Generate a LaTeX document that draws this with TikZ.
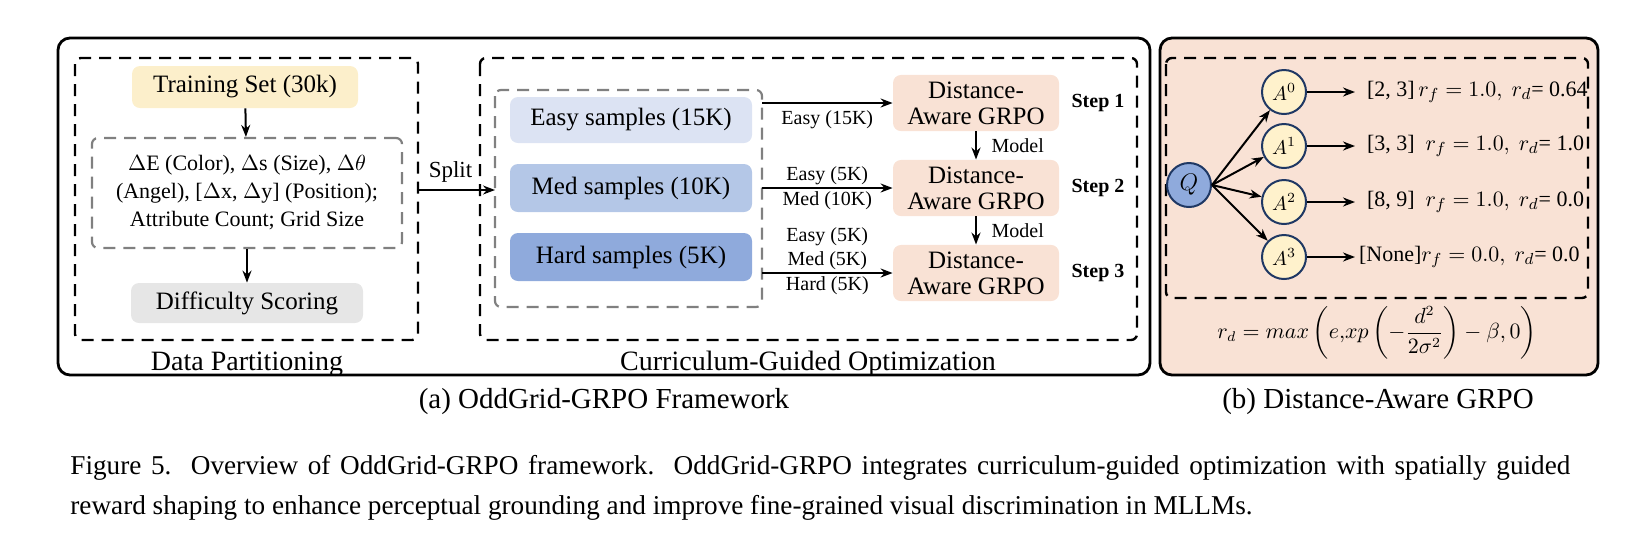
\documentclass[tikz,border=0pt]{standalone}
\usepackage{amsmath}
\usepackage{fontspec}
\setmainfont{Liberation Serif}
\usetikzlibrary{arrows.meta}

\definecolor{setyellow}{HTML}{FCEFCB}
\definecolor{scoregray}{HTML}{E6E6E6}
\definecolor{easyblue}{HTML}{DCE3F3}
\definecolor{medblue}{HTML}{B4C7E7}
\definecolor{hardblue}{HTML}{8FAADC}
\definecolor{peach}{HTML}{F9E2D5}
\definecolor{navy}{HTML}{1F3864}
\definecolor{ansyellow}{HTML}{FFF2CC}

\tikzset{
  frame/.style={draw, line width=1.4pt, rounded corners=6pt},
  group/.style={draw, dashed, line width=1.2pt, dash pattern=on 6pt off 4pt, rounded corners=3pt},
  subgroup/.style={draw=gray, dashed, line width=1.1pt, dash pattern=on 6pt off 4pt, rounded corners=3pt},
  block/.style={rounded corners=4pt, align=center, font=\fontsize{12.5}{13}\selectfont},
  title/.style={font=\fontsize{14}{16}\selectfont},
  stepname/.style={font=\fontsize{10}{11}\selectfont\bfseries},
  small/.style={font=\fontsize{10}{12}\selectfont, align=center},
  ans/.style={draw=navy, fill=ansyellow, circle, line width=1pt, minimum size=22pt, inner sep=0pt},
  arr/.style={-{Stealth[length=6pt]}, line width=1pt}
}

\begin{document}
\begin{tikzpicture}[x=0.5pt, y=-0.5pt]
        \useasboundingbox (0, 0) rectangle (1641, 543);

        % (a) framework
        \draw [frame] (58, 38) rectangle (1150, 375);
        \draw [group] (75, 58) rectangle (418, 340);
        \draw [group] (480, 58) rectangle (1137, 340);

        \node [block, fill=setyellow, minimum width=113pt, minimum height=21pt] (S) at (245, 87) {Training Set (30k)};
        \node [subgroup, minimum width=155pt, minimum height=55pt, align=center, font=\fontsize{11}{14}\selectfont] (D) at (247, 193)
              {$\Delta$E (Color), $\Delta$s (Size), $\Delta\theta$\\(Angel), [$\Delta$x, $\Delta$y] (Position);\\Attribute Count; Grid Size};
        \node [block, fill=scoregray, minimum width=116pt, minimum height=20pt] (R) at (247, 303) {Difficulty Scoring};
        \node [title] (P) at (247, 364) {Data Partitioning};

        \draw [arr] (S) -- (D);
        \draw [arr] (D) -- (R);

        \coordinate (L) at (418, 190);
        \coordinate (Rt) at (495, 190);
        \draw [arr] (L) -- node [above, small, font=\fontsize{11.5}{12}\selectfont, xshift=-3pt] {Split} (Rt);

        \draw [subgroup] (495, 90) rectangle (762, 307);
        \node [block, fill=easyblue, minimum width=121pt, minimum height=23pt] (E) at (631, 120) {Easy samples (15K)};
        \node [block, fill=medblue, minimum width=121pt, minimum height=24pt] (M) at (631, 188) {Med samples (10K)};
        \node [block, fill=hardblue, minimum width=121pt, minimum height=24pt] (H) at (631, 257) {Hard samples (5K)};

        \node [block, fill=peach, minimum width=83pt, minimum height=27pt] (G1) at (976, 103) {Distance-\\Aware GRPO};
        \node [block, fill=peach, minimum width=83pt, minimum height=27pt] (G2) at (976, 188) {Distance-\\Aware GRPO};
        \node [block, fill=peach, minimum width=83pt, minimum height=27pt] (G3) at (976, 273) {Distance-\\Aware GRPO};

        \node [stepname] (T1) at (1098, 103) {Step 1};
        \node [stepname] (T2) at (1098, 188) {Step 2};
        \node [stepname] (T3) at (1098, 273) {Step 3};

        \coordinate (I1) at (762, 103);
        \coordinate (I2) at (762, 188);
        \coordinate (I3) at (762, 273);
        \draw [arr] (I1) -- node [below, small] {Easy (15K)} (G1);
        \draw [arr] (I2) -- node [above, small, yshift=-2pt] {Easy (5K)} node [below, small, yshift=2pt] {Med (10K)} (G2);
        \draw [arr] (I3) -- node [above, small, yshift=-2pt] {Easy (5K)\\Med (5K)} node [below, small, yshift=2pt] {Hard (5K)} (G3);

        \draw [arr] (G1) -- node [right, small, xshift=4pt] {Model} (G2);
        \draw [arr] (G2) -- node [right, small, xshift=4pt] {Model} (G3);

        \node [title] (C) at (808, 364) {Curriculum-Guided Optimization};

        % (b) distance-aware GRPO
        \draw [frame, fill=peach] (1160, 38) rectangle (1598, 375);
        \draw [group] (1166, 58) rectangle (1588, 298);

        \node [draw=navy, fill=hardblue, circle, line width=1pt, minimum size=22pt, inner sep=0pt, font=\large] (Q) at (1189, 185) {$Q$};
        \foreach \i/\y in {0/92, 1/146, 2/202, 3/257} {
            \node [ans] (A\i) at (1284, \y) {$A^{\i}$};
            \coordinate (B\i) at (1355, \y);
            \draw [arr] (Q.east) -- (A\i);
            \draw [arr] (A\i) -- (B\i);
        }
        \node [anchor=west, font=\fontsize{11}{12}\selectfont] (V0) at (1360, 92) {[2, 3]\,$r_f = 1.0,\ r_d$= 0.64};
        \node [anchor=west, font=\fontsize{11}{12}\selectfont] (V1) at (1360, 146) {[3, 3] \ $r_f = 1.0,\ r_d$= 1.0};
        \node [anchor=west, font=\fontsize{11}{12}\selectfont] (V2) at (1360, 202) {[8, 9] \ $r_f = 1.0,\ r_d$= 0.0};
        \node [anchor=west, font=\fontsize{11}{12}\selectfont] (V3) at (1352, 257) {[None]$r_f = 0.0,\ r_d$= 0.0};

        \node [font=\fontsize{10.5}{12}\selectfont] (F) at (1377, 333)
              {$r_d = max\left(e{,}xp\left(-\dfrac{d^2}{2\sigma^2}\right)-\beta, 0\right)$};

        % captions
        \node [font=\fontsize{14.5}{16}\selectfont] (Ca) at (604, 402) {(a) OddGrid-GRPO Framework};
        \node [font=\fontsize{14.5}{16}\selectfont] (Cb) at (1378, 402) {(b) Distance-Aware GRPO};
        \node [anchor=north west, text width=750pt, align=justify, inner sep=0pt, font=\fontsize{13.6}{20}\selectfont] (Fig) at (70, 455)
              {Figure 5.\ \ Overview of OddGrid-GRPO framework.\ \ OddGrid-GRPO integrates curriculum-guided optimization with spatially guided reward shaping to enhance perceptual grounding and improve fine-grained visual discrimination in MLLMs.};
    \end{tikzpicture}
\end{document}
